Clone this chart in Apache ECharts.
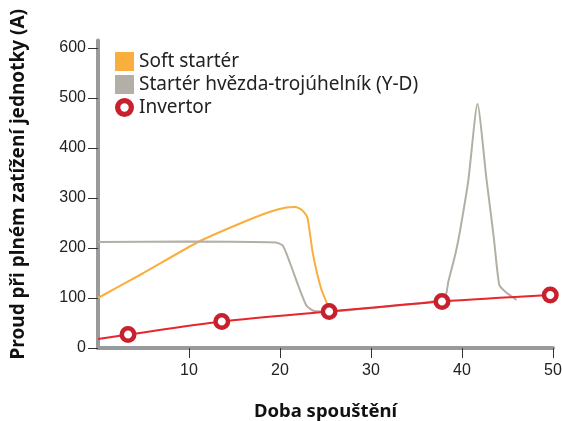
<!DOCTYPE html>
<html>
<head>
<meta charset="utf-8">
<script src="https://cdn.jsdelivr.net/npm/echarts@6/dist/echarts.min.js"></script>
<style>
  html, body { margin: 0; padding: 0; background: #fff; }
  #main { width: 562px; height: 421px; }
</style>
</head>
<body>
<div id="main"></div>
<script>
var seriesNames = ['Soft startér', 'Startér hvězda-trojúhelník (Y-D)', 'Invertor'];

var softTime    = [0, 5, 11, 16, 19, 20.7, 21.7, 22.4, 23, 23.6, 24.5, 25.5];
var softCurrent = [100, 150, 212, 252, 273, 281, 282, 276, 262, 190, 120, 75];

var ydTime    = [0, 10, 19.5, 20.3, 21.1, 22, 22.9, 23.6, 24.5, 30, 38, 38.5, 39.3, 39.8, 40.7, 41.7, 42.7, 43.5, 44.1, 44.8, 46];
var ydCurrent = [212, 213, 211, 205, 170, 125, 85, 75, 73, 80, 98, 133, 190, 236, 336, 488, 336, 220, 126, 112, 96];

var invTime    = [0, 3.3, 13.6, 25.4, 37.8, 49.7];
var invCurrent = [18, 27, 53, 73, 93, 106];

var xTicks = [10, 20, 30, 40, 50];
var yTicks = [0, 100, 200, 300, 400, 500, 600];

// kroužek pro legendu (vnější r 9, vnitřní r 4)
var ringIcon = 'path://M9,0A9,9,0,1,1,9,18A9,9,0,1,1,9,0ZM9,5A4,4,0,1,0,9,13A4,4,0,1,0,9,5Z';

function pairs(xs, ys) {
  return xs.map(function(x, i) { return [x, ys[i]]; });
}

var chart = echarts.init(document.getElementById('main'));

var invData = pairs(invTime, invCurrent).map(function(p, i) {
  return i === 0 ? { value: p, symbol: 'none' } : { value: p };
});

var option = {
  animation: false,
  grid: { left: 98, right: 9, top: 40.5, bottom: 73, outerBoundsMode: 'none' },
  legend: {
    orient: 'vertical',
    left: 110,
    top: 47,
    itemWidth: 19,
    itemHeight: 19,
    itemGap: 4,
    textStyle: { fontFamily: 'Noto Sans', fontSize: 19, color: '#222' },
    data: [
      { name: seriesNames[0], icon: 'rect' },
      { name: seriesNames[1], icon: 'rect' },
      { name: seriesNames[2], icon: ringIcon,
        itemStyle: { color: '#c8202d', borderWidth: 0 } }
    ]
  },
  xAxis: {
    type: 'value',
    min: 0,
    max: 50,
    interval: 10,
    name: 'Doba spouštění',
    nameLocation: 'middle',
    nameGap: 54,
    nameTextStyle: { fontFamily: 'Noto Sans', fontWeight: 'bold', fontSize: 18.5, color: '#111' },
    splitLine: { show: false },
    axisLine: { lineStyle: { color: '#999a9c', width: 4 } },
    axisTick: { customValues: xTicks, length: 10, lineStyle: { color: '#333', width: 1 } },
    axisLabel: { customValues: xTicks, margin: 15, fontFamily: 'Liberation Sans', fontSize: 16, color: '#222' }
  },
  yAxis: {
    type: 'value',
    min: 0,
    max: 615,
    interval: 100,
    name: 'Proud při plném zatížení jednotky (A)',
    nameLocation: 'middle',
    nameRotate: 90,
    nameGap: 70,
    nameTextStyle: { fontFamily: 'Noto Sans', fontWeight: 'bold', fontSize: 19, color: '#111', padding: [0, 0, 0, 20] },
    splitLine: { show: false },
    axisLine: { show: true, lineStyle: { color: '#999a9c', width: 4 } },
    axisTick: { show: true, customValues: yTicks, length: 10, lineStyle: { color: '#333', width: 1 } },
    axisLabel: { customValues: yTicks, margin: 12, fontFamily: 'Liberation Sans', fontSize: 16, color: '#222' }
  },
  series: [
    {
      name: seriesNames[0],
      type: 'line',
      color: '#f9ae3d',
      smooth: 0.2,
      symbol: 'none',
      lineStyle: { width: 2, color: '#f9ae3d' },
      data: pairs(softTime, softCurrent)
    },
    {
      name: seriesNames[1],
      type: 'line',
      color: '#b3afa7',
      smooth: 0.2,
      symbol: 'none',
      lineStyle: { width: 2, color: '#b3afa7' },
      data: pairs(ydTime, ydCurrent)
    },
    {
      name: seriesNames[2],
      type: 'line',
      color: '#c8202d',
      smooth: 0.3,
      symbol: 'circle',
      symbolSize: 12.5,
      lineStyle: { width: 2, color: '#e8262b' },
      itemStyle: { color: '#fff', borderColor: '#c8202d', borderWidth: 4.5 },
      z: 3,
      data: invData
    }
  ]
};

chart.setOption(option);
</script>
</body>
</html>
